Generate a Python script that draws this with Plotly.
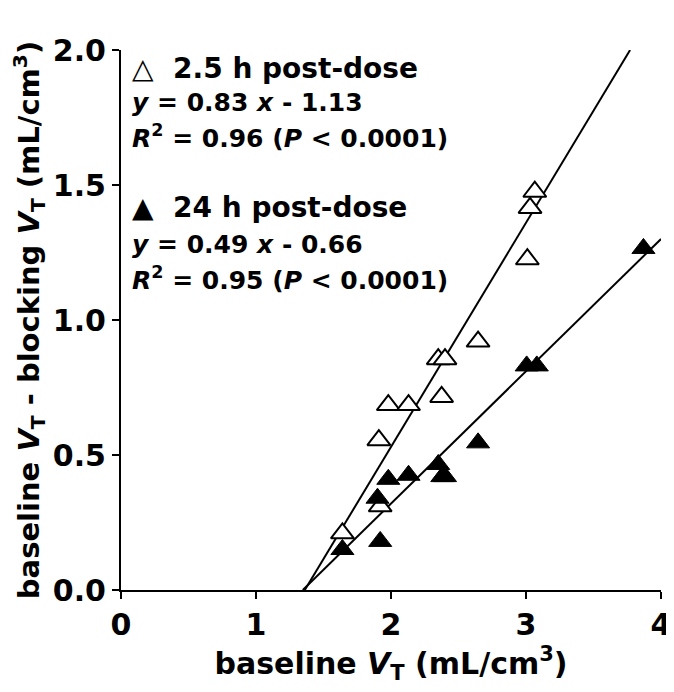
import plotly.graph_objects as go

# 2.5 h post-dose (open triangles)
x_25h = [1.64, 1.92, 1.91, 1.98, 2.13, 2.375, 2.35, 2.40, 2.645, 3.01, 3.03, 3.065]
y_25h = [0.21, 0.31, 0.555, 0.685, 0.685, 0.715, 0.855, 0.855, 0.92, 1.225, 1.415, 1.475]

# 24 h post-dose (filled triangles)
x_24h = [1.64, 1.92, 1.90, 1.98, 2.13, 2.35, 2.38, 2.40, 2.645, 3.005, 3.08, 3.87]
y_24h = [0.15, 0.18, 0.34, 0.41, 0.425, 0.465, 0.42, 0.42, 0.545, 0.83, 0.83, 1.265]

# regression fits: slope, intercept
fit_25h = (0.83, -1.13)
fit_24h = (0.49, -0.66)

x_ticks = [0, 1, 2, 3, 4]
y_ticks = [0.0, 0.5, 1.0, 1.5, 2.0]
x_range = [0, 4]
y_range = [0, 2]

FONT = "DejaVu Sans, Liberation Sans, Arial, sans-serif"


def fit_line(fit):
    m, b = fit
    x0 = -b / m
    x1 = min(x_range[1], (y_range[1] - b) / m)
    return [x0, x1], [m * x0 + b, m * x1 + b]


fig = go.Figure()

lx, ly = fit_line(fit_25h)
fig.add_trace(go.Scatter(x=lx, y=ly, mode="lines", line=dict(color="black", width=2),
                         showlegend=False, hoverinfo="skip", cliponaxis=False))
lx, ly = fit_line(fit_24h)
fig.add_trace(go.Scatter(x=lx, y=ly, mode="lines", line=dict(color="black", width=2),
                         showlegend=False, hoverinfo="skip", cliponaxis=False))

fig.add_trace(go.Scatter(x=x_25h, y=y_25h, mode="markers", name="2.5 h post-dose",
                         marker=dict(symbol="triangle-up", size=20, color="white",
                                     line=dict(color="black", width=2)),
                         cliponaxis=False))
fig.add_trace(go.Scatter(x=x_24h, y=y_24h, mode="markers", name="24 h post-dose",
                         marker=dict(symbol="triangle-up", size=20, color="black",
                                     line=dict(color="black", width=1)),
                         cliponaxis=False))

ann_lines = [
    ("△  2.5 h post-dose", 1.933, 28),
    ("<i>y</i> = 0.83 <i>x</i> - 1.13", 1.804, 25),
    ("<i>R</i><sup>2</sup> = 0.96 (<i>P</i> < 0.0001)", 1.678, 25),
    ("▲  24 h post-dose", 1.415, 28),
    ("<i>y</i> = 0.49 <i>x</i> - 0.66", 1.281, 25),
    ("<i>R</i><sup>2</sup> = 0.95 (<i>P</i> < 0.0001)", 1.152, 25),
]
for txt, yy, fs in ann_lines:
    fig.add_annotation(x=0.07, y=yy, xref="x", yref="y", text=txt, showarrow=False,
                       xanchor="left", yanchor="middle",
                       font=dict(family=FONT, size=fs, color="black", weight="bold"))

axis_common = dict(showline=True, linecolor="black", linewidth=2, ticks="outside",
                   ticklen=7, tickwidth=2, tickcolor="black", showgrid=False,
                   zeroline=False, mirror=False,
                   tickfont=dict(family=FONT, size=30, color="black", weight="bold"))

fig.update_xaxes(range=x_range, tickvals=x_ticks, ticktext=[str(v) for v in x_ticks],
                 title=dict(text="baseline <i>V</i><sub>T</sub> (mL/cm<sup>3</sup>)",
                            font=dict(family=FONT, size=30, color="black", weight="bold"),
                            standoff=7),
                 **axis_common)
fig.update_yaxes(range=y_range, tickvals=y_ticks, ticktext=[f"{v:.1f}" for v in y_ticks],
                 title=dict(text="baseline <i>V</i><sub>T</sub> - blocking <i>V</i><sub>T</sub> (mL/cm<sup>3</sup>)",
                            font=dict(family=FONT, size=29, color="black", weight="bold"),
                            standoff=6),
                 **axis_common)

# note: page body adds an 8px offset, margins compensate for it
fig.update_layout(width=674, height=692, margin=dict(l=113, r=21, t=42, b=110),
                  plot_bgcolor="white", paper_bgcolor="white", showlegend=False)

fig.write_html("out.html")
